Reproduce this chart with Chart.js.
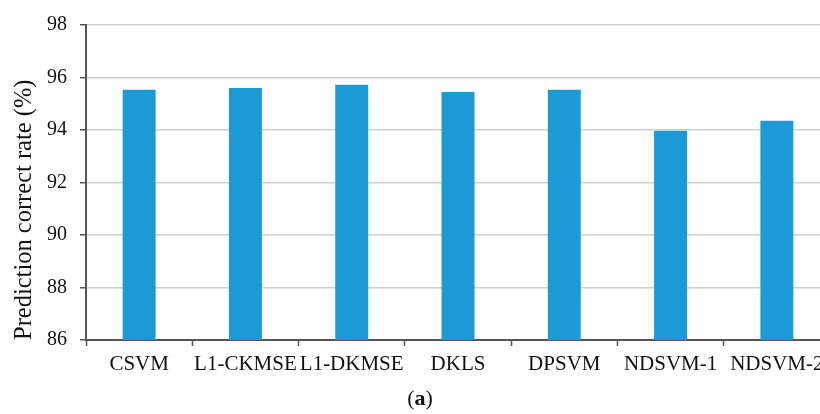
<!DOCTYPE html>
<html><head><meta charset="utf-8">
<script src="https://cdn.jsdelivr.net/npm/chart.js@4/dist/chart.umd.min.js"></script>
<style>
html,body{margin:0;padding:0;background:#fff;overflow:hidden;width:820px;height:414px;}
#wrap{position:relative;width:840px;height:414px;}
canvas{display:block;}
#cap{position:absolute;left:10px;width:820px;top:386px;text-align:center;font-family:'Liberation Serif',serif;font-size:22px;line-height:24px;color:#111;}
</style></head><body>
<div id="wrap"><canvas id="c" width="840" height="414"></canvas>
<div id="cap">(<b>a</b>)</div></div>
<script>
const categories = ['CSVM','L1-CKMSE','L1-DKMSE','DKLS','DPSVM','NDSVM-1','NDSVM-2'];
const rates = [95.53, 95.60, 95.72, 95.45, 95.53, 93.97, 94.35];
const yTicks = [86, 88, 90, 92, 94, 96, 98];
const yTitle = 'Prediction correct rate (%)';

new Chart(document.getElementById('c'), {
  type: 'bar',
  data: { labels: categories, datasets: [{ data: rates, backgroundColor: '#1c9ad6', borderWidth: 0, categoryPercentage: 0.31, barPercentage: 1 }] },
  options: {
    responsive: false, animation: false,
    layout: { padding: { top: 22, right: 10, bottom: 29, left: 0 } },
    plugins: { legend: { display: false }, tooltip: { enabled: false } },
    scales: {
      x: {
        grid: { drawOnChartArea: false, drawTicks: true, tickLength: 6, tickColor: '#555', tickWidth: 1.5 },
        border: { color: '#555', width: 2 },
        ticks: { color: '#111', font: { family: 'Liberation Serif', size: 21 }, padding: 6, maxRotation: 0, autoSkip: false },
        afterFit: s => { s.height = 45; }
      },
      y: {
        min: yTicks[0], max: yTicks[yTicks.length - 1],
        afterBuildTicks: s => { s.ticks = yTicks.map(v => ({ value: v })); },
        grid: { color: '#d0d0d0', lineWidth: 1.5, drawTicks: true, tickLength: 6, tickColor: '#555' },
        border: { color: '#555', width: 2 },
        ticks: { color: '#111', font: { family: 'Liberation Serif', size: 20 }, padding: 13 },
        title: { display: true, align: 'start', text: yTitle, color: '#111', font: { family: 'Liberation Serif', size: 24.5 }, padding: { top: 10, bottom: 0 } },
        afterFit: s => { s.width = 86; }
      }
    }
  }
});
</script>
</body></html>
